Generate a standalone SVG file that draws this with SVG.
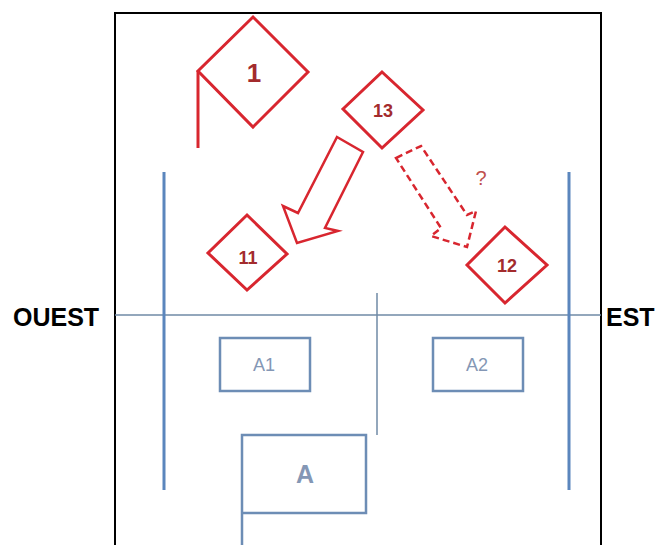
<svg xmlns="http://www.w3.org/2000/svg" width="655" height="545" viewBox="0 0 655 545">
<style>
.frame{fill:none;stroke:#000;stroke-width:2}
.side{font-family:"Liberation Sans",Arial,sans-serif;font-weight:bold;font-size:25px;fill:#000}
.blue{stroke:#5b86bd;stroke-width:3;fill:none}
.thin{stroke:#6f8aa6;stroke-width:1.5;fill:none}
.box{fill:none;stroke:#6d8db5;stroke-width:2.5}
.btxt{font-family:"Liberation Sans",Arial,sans-serif;font-size:18px;fill:#8497b5;text-anchor:middle}
.dia{fill:#fff;stroke:#d8262f;stroke-width:3;stroke-linejoin:miter}
.rtxt{font-family:"Liberation Sans",Arial,sans-serif;font-weight:bold;font-size:18px;fill:#a32b2d;text-anchor:middle}
.arr{fill:#fff;stroke:#d8262f;stroke-width:2.5;stroke-linejoin:miter}
.dash{stroke-dasharray:7 4}
</style>
<rect width="655" height="545" fill="#fff"/>
<path class="frame" d="M115,545 V13 H601 V545"/>
<text class="side" x="13" y="326">OUEST</text>
<text class="side" x="606" y="326">EST</text>

<g id="axes">
<line class="thin" x1="115" y1="315" x2="601" y2="315"/>
<line class="thin" x1="377" y1="293" x2="377" y2="435"/>
<line class="blue" x1="164" y1="172" x2="164" y2="490"/>
<line class="blue" x1="569" y1="172" x2="569" y2="490"/>
</g>

<g id="connectors">
<polygon id="arrow-11" class="arr" points="337,137 363,152 325,228 338,231 297,243 283,206 298,213"/>
<polygon id="arrow-12" class="arr dash" points="396,158 421,146 467,215 476,211 467,247 431,236 441,228"/>
<text x="481" y="185" style="font-family:'Liberation Sans',Arial,sans-serif;font-size:20px;fill:#c0504d;text-anchor:middle">?</text>
</g>

<g id="node-1">
<polyline points="198,71 198,148" fill="none" stroke="#d8262f" stroke-width="3"/>
<polygon class="dia" points="253,17 308,72 253,127 198,71"/>
<text class="rtxt" x="254" y="82" style="font-size:26px">1</text>
</g>
<g id="node-13">
<polygon class="dia" points="382,72 423,110 382,148 343,109"/>
<text class="rtxt" x="383" y="117">13</text>
</g>
<g id="node-11">
<polygon class="dia" points="247,215 287,254 247,290 208,253"/>
<text class="rtxt" x="248" y="264">11</text>
</g>
<g id="node-12">
<polygon class="dia" points="505,227 547,265 505,303 467,265"/>
<text class="rtxt" x="507" y="272">12</text>
</g>

<g id="node-A1">
<rect class="box" x="220" y="338" width="90" height="53"/>
<text class="btxt" x="264" y="371">A1</text>
</g>
<g id="node-A2">
<rect class="box" x="433" y="338" width="90" height="53"/>
<text class="btxt" x="477" y="371">A2</text>
</g>
<g id="node-A">
<polyline class="box" points="242,545 242,435 366,435 366,513 242,513"/>
<text class="btxt" x="305" y="483" style="font-size:25px;font-weight:bold">A</text>
</g>
</svg>
